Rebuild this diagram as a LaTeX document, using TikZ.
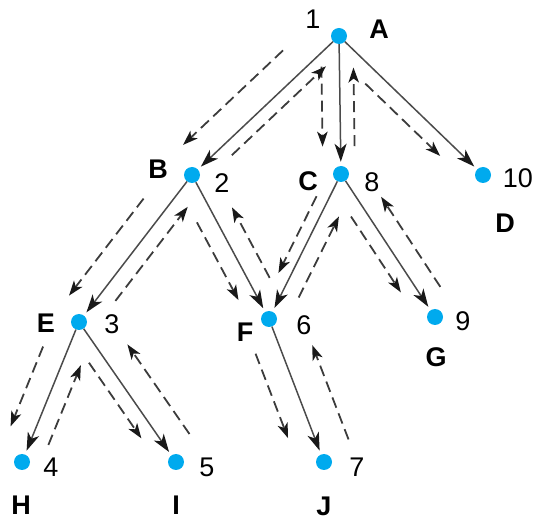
\documentclass[tikz,border=0pt]{standalone}
\usepackage{fontspec}
\setmainfont{Liberation Sans}
\usetikzlibrary{arrows.meta,calc}
\definecolor{dotblue}{RGB}{0,170,238}
\definecolor{linegray}{RGB}{75,75,75}
\definecolor{dashgray}{RGB}{60,60,60}
\definecolor{tipblack}{RGB}{25,25,25}
% traversal arrow: from, to, offset (right of travel), start fraction, end fraction
\newcommand\trav[5]{%
  \path (#1.center) -- (#2.center) coordinate[pos=#4] (t1) coordinate[pos=#5] (t2);
  \draw[travel] ($(t1)!#3!-90:(#2.center)$) -- ($(t2)!#3!90:(#1.center)$);
}
\begin{document}
\begin{tikzpicture}[x=1pt,y=-1pt,
  dot/.style={circle,fill=dotblue,minimum size=16pt,inner sep=0pt},
  tree/.style={draw=linegray,line width=1.5pt,-{Stealth[length=18pt,width=12pt,inset=5pt,color=tipblack]},shorten >=4pt},
  travel/.style={draw=dashgray,line width=1.8pt,dash pattern=on 11pt off 6pt,-{Stealth[length=15pt,width=10.5pt,inset=4pt,color=tipblack]}},
  num/.style={font=\fontsize{27pt}{27pt}\selectfont},
  lbl/.style={font=\fontsize{27pt}{27pt}\selectfont\bfseries}]
\useasboundingbox (0,0) rectangle (536,521);
% vertices
\node[dot] (A) at (339,36) {};
\node[dot] (B) at (192,175) {};
\node[dot] (C) at (341,174) {};
\node[dot] (D) at (483,175) {};
\node[dot] (E) at (79,322) {};
\node[dot] (F) at (269,319) {};
\node[dot] (G) at (435,317) {};
\node[dot] (H) at (22,462) {};
\node[dot] (I) at (176,462) {};
\node[dot] (J) at (324,462) {};
% labels
\node[num] (l1) at (313,19) {1};
\node[lbl] (lA) at (379,29) {A};
\node[lbl] (lB) at (158,169) {B};
\node[num] (l2) at (222,183) {2};
\node[lbl] (lC) at (308,181) {C};
\node[num] (l8) at (372,182) {8};
\node[num] (l10) at (518,178) {10};
\node[lbl] (lD) at (505,223) {D};
\node[lbl] (lE) at (46,323) {E};
\node[num] (l3) at (112,324) {3};
\node[lbl] (lF) at (245,332) {F};
\node[num] (l6) at (304,325) {6};
\node[num] (l9) at (463,321) {9};
\node[lbl] (lG) at (436,357) {G};
\node[num] (l4) at (51,467) {4};
\node[lbl] (lH) at (21,505) {H};
\node[num] (l5) at (207,467) {5};
\node[lbl] (lI) at (176,505) {I};
\node[num] (l7) at (357,467) {7};
\node[lbl] (lJ) at (324,506) {J};
% tree edges
\draw[tree] (A) -- (B);
\draw[tree] (A) -- (C);
\draw[tree] (A) -- (D);
\draw[tree] (B) -- (E);
\draw[tree] (B) -- (F);
\draw[tree] (C) -- (F);
\draw[tree] (C) -- (G);
\draw[tree] (E) -- (H);
\draw[tree] (E) -- (I);
\draw[tree] (F) -- (J);
% traversal going down
\trav{A}{B}{28pt}{0.25}{0.93}
\trav{A}{C}{18pt}{0.22}{0.80}
\trav{A}{D}{16pt}{0.26}{0.78}
\trav{B}{E}{24pt}{0.26}{0.92}
\trav{B}{F}{18pt}{0.27}{0.81}
\trav{C}{F}{12pt}{0.19}{0.72}
\trav{C}{G}{15pt}{0.24}{0.77}
\trav{E}{H}{24pt}{0.24}{0.81}
\trav{E}{I}{15pt}{0.23}{0.77}
\trav{F}{J}{25pt}{0.18}{0.77}
% traversal going up
\trav{B}{A}{13pt}{0.21}{0.85}
\trav{C}{A}{14pt}{0.20}{0.77}
\trav{E}{B}{16pt}{0.21}{0.85}
\trav{F}{B}{20pt}{0.22}{0.71}
\trav{F}{C}{17pt}{0.20}{0.76}
\trav{G}{C}{21pt}{0.13}{0.76}
\trav{H}{E}{18pt}{0.17}{0.74}
\trav{I}{E}{27pt}{0.09}{0.73}
\trav{J}{F}{31pt}{0.08}{0.74}
\end{tikzpicture}
\end{document}
